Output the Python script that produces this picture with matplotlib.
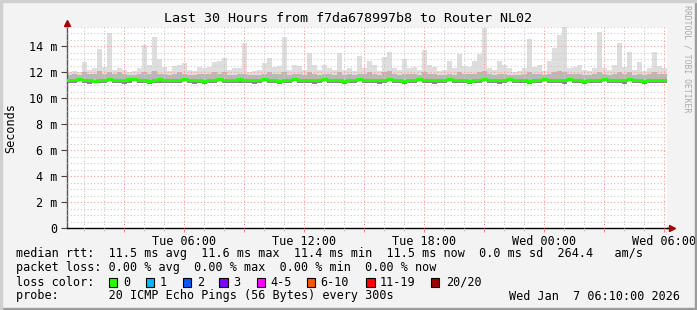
import datetime as dt
import numpy as np
import matplotlib
matplotlib.use('Agg')
import matplotlib.pyplot as plt
import matplotlib.dates as mdates
from matplotlib.ticker import MultipleLocator, FuncFormatter
from matplotlib.patches import Rectangle

title = 'Last 30 Hours from f7da678997b8 to Router NL02'
start = dt.datetime(2026, 1, 6, 0, 10)
step_minutes = 15

# median rtt per 15 minute bin (ms)
median_ms = [
    11.4, 11.4, 11.5, 11.4, 11.4, 11.3, 11.4, 11.4, 11.5, 11.4,
    11.4, 11.4, 11.5, 11.5, 11.4, 11.4, 11.3, 11.4, 11.5, 11.4,
    11.4, 11.4, 11.4, 11.5, 11.4, 11.4, 11.4, 11.3, 11.4, 11.4,
    11.5, 11.4, 11.4, 11.4, 11.5, 11.4, 11.4, 11.4, 11.4, 11.5,
    11.4, 11.4, 11.3, 11.4, 11.4, 11.5, 11.4, 11.4, 11.4, 11.4,
    11.4, 11.5, 11.4, 11.4, 11.4, 11.3, 11.4, 11.4, 11.5, 11.4,
    11.4, 11.4, 11.4, 11.4, 11.5, 11.4, 11.4, 11.3, 11.4, 11.4,
    11.5, 11.4, 11.4, 11.4, 11.4, 11.4, 11.5, 11.4, 11.4, 11.4,
    11.3, 11.4, 11.4, 11.5, 11.4, 11.4, 11.4, 11.4, 11.5, 11.4,
    11.4, 11.4, 11.3, 11.4, 11.4, 11.5, 11.4, 11.4, 11.4, 11.4,
    11.5, 11.4, 11.4, 11.3, 11.4, 11.4, 11.4, 11.5, 11.4, 11.4,
    11.4, 11.4, 11.5, 11.4, 11.4, 11.3, 11.4, 11.4, 11.4, 11.4,
]

# slowest ping per bin (ms)
ping_max = [
    12.0, 12.1, 12.0, 12.8, 12.2, 12.3, 13.8, 12.4, 15.0, 12.2,
    12.3, 12.2, 12.0, 12.1, 12.3, 14.1, 12.6, 14.7, 13.0, 12.4,
    12.1, 12.5, 12.6, 12.7, 12.2, 12.1, 12.4, 12.3, 12.4, 12.8,
    12.9, 13.1, 12.2, 12.3, 12.3, 14.3, 12.0, 12.1, 12.2, 12.7,
    13.1, 12.4, 12.5, 14.7, 12.2, 12.6, 12.5, 12.2, 13.5, 12.6,
    12.2, 12.6, 12.3, 12.2, 13.5, 12.2, 12.3, 12.1, 13.3, 12.3,
    12.9, 12.6, 12.1, 13.2, 13.6, 12.3, 12.2, 13.0, 12.3, 12.4,
    12.2, 13.7, 12.6, 12.4, 12.1, 12.2, 12.9, 12.3, 13.4, 12.5,
    12.4, 12.9, 13.4, 15.4, 12.3, 12.2, 12.9, 12.6, 12.3, 12.0,
    12.1, 12.3, 14.6, 12.4, 12.6, 12.1, 12.9, 13.9, 14.9, 15.5,
    12.3, 12.4, 12.6, 12.2, 12.1, 12.3, 15.1, 12.3, 12.2, 12.6,
    14.3, 12.4, 13.6, 12.2, 12.8, 12.1, 12.3, 13.6, 12.5, 12.3,
]

# upper edge of the dense smoke (ms)
ping_hi = [
    11.8, 11.9, 11.8, 12.0, 11.9, 11.9, 12.1, 11.9, 12.0, 11.9,
    12.0, 11.9, 11.8, 11.8, 11.9, 12.0, 11.9, 12.1, 11.9, 11.9,
    11.8, 11.9, 12.0, 11.9, 11.8, 11.8, 11.9, 11.9, 11.9, 12.0,
    11.9, 12.0, 11.8, 11.8, 11.9, 11.9, 11.8, 11.8, 11.8, 11.9,
    12.0, 11.9, 11.9, 12.0, 11.8, 11.9, 11.9, 11.8, 12.0, 11.9,
    11.8, 11.9, 11.9, 11.8, 12.0, 11.8, 11.9, 11.8, 11.9, 11.9,
    12.0, 11.9, 11.8, 12.0, 12.1, 11.9, 11.8, 11.9, 11.9, 11.9,
    11.8, 12.0, 11.9, 11.9, 11.8, 11.8, 11.9, 11.8, 12.0, 11.9,
    11.9, 11.9, 12.0, 12.1, 11.9, 11.8, 11.9, 11.9, 11.8, 11.8,
    11.8, 11.9, 12.0, 11.9, 11.9, 11.8, 11.9, 12.0, 12.1, 12.0,
    11.9, 11.9, 11.9, 11.8, 11.8, 11.9, 12.0, 11.9, 11.8, 11.9,
    12.0, 11.9, 12.0, 11.8, 11.9, 11.8, 11.9, 12.0, 11.9, 11.9,
]

# fastest ping per bin (ms)
ping_min = [
    11.2, 11.2, 11.3, 11.2, 11.1, 11.2, 11.2, 11.2, 11.3, 11.2,
    11.2, 11.1, 11.2, 11.3, 11.2, 11.2, 11.1, 11.2, 11.2, 11.2,
    11.2, 11.2, 11.2, 11.3, 11.2, 11.1, 11.2, 11.1, 11.2, 11.2,
    11.3, 11.2, 11.2, 11.2, 11.2, 11.2, 11.2, 11.1, 11.2, 11.3,
    11.2, 11.2, 11.1, 11.2, 11.2, 11.3, 11.2, 11.2, 11.2, 11.1,
    11.2, 11.3, 11.2, 11.2, 11.2, 11.1, 11.2, 11.2, 11.3, 11.2,
    11.2, 11.2, 11.1, 11.2, 11.3, 11.2, 11.2, 11.1, 11.2, 11.2,
    11.3, 11.2, 11.2, 11.1, 11.2, 11.2, 11.3, 11.2, 11.2, 11.2,
    11.1, 11.2, 11.2, 11.3, 11.2, 11.2, 11.1, 11.2, 11.3, 11.2,
    11.2, 11.2, 11.1, 11.2, 11.2, 11.3, 11.2, 11.2, 11.2, 11.1,
    11.3, 11.2, 11.2, 11.1, 11.2, 11.2, 11.2, 11.3, 11.2, 11.2,
    11.2, 11.1, 11.3, 11.2, 11.2, 11.1, 11.2, 11.2, 11.2, 11.2,
]

legend_lines = [
    'median rtt:  11.5 ms avg  11.6 ms max  11.4 ms min  11.5 ms now  0.0 ms sd  264.4   am/s',
    'packet loss: 0.00 % avg  0.00 % max  0.00 % min  0.00 % now',
    'loss color:',
    'probe:       20 ICMP Echo Pings (56 Bytes) every 300s',
]
loss_labels = ['0', '1', '2', '3', '4-5', '6-10', '11-19', '20/20']
loss_colors = ['#26ff00', '#00b8ff', '#0059ff', '#7e00ff', '#ff00ff', '#ff5500', '#ff0000', '#a10000']
stamp = 'Wed Jan  7 06:10:00 2026'

W, H = 697, 310
MONO = 'DejaVu Sans Mono'


def fx(px):
    return px / W


def fy(py):
    return 1 - py / H


fig = plt.figure(figsize=(W / 100, H / 100), dpi=100, facecolor='#f3f3f3')

# frame around the image
fig.patches.append(Rectangle((0, 0), 1, 2 / H, transform=fig.transFigure, color='#9c9c9c'))
fig.patches.append(Rectangle((1 - 2 / W, 0), 2 / W, 1, transform=fig.transFigure, color='#9c9c9c'))
fig.patches.append(Rectangle((0, 1 - 2 / H), 1, 2 / H, transform=fig.transFigure, color='#cfcfcf'))
fig.patches.append(Rectangle((0, 0), 2 / W, 1, transform=fig.transFigure, color='#cfcfcf'))

ax = fig.add_axes([fx(67), fy(228), 600 / W, 201 / H])
ax.set_facecolor('white')

n = len(median_ms)
edges = [start + dt.timedelta(minutes=step_minutes * i) for i in range(n + 1)]


def ext(a):
    return np.append(a, a[-1])


# smoke: light outer, mid dense band, dark just under the median
ax.fill_between(edges, ext(ping_min), ext(ping_max), step='post', color='#dedede', lw=0, zorder=1)
ax.fill_between(edges, ext(ping_min), ext(ping_hi), step='post', color='#b8b8b8', lw=0, zorder=2)
ax.fill_between(edges, ext(ping_min), ext(median_ms), step='post', color='#888888', lw=0, zorder=2)
ax.plot(edges, ext(median_ms), drawstyle='steps-post', color='#26ff00', lw=2.2, zorder=4)

ax.set_xlim(start, start + dt.timedelta(hours=30))
ax.set_ylim(0, 15.5)

# grid
ax.xaxis.set_major_locator(mdates.HourLocator(byhour=range(0, 24, 3)))
ax.xaxis.set_minor_locator(mdates.HourLocator())


def xfmt(x, pos):
    d = mdates.num2date(x)
    return d.strftime('%a %H:%M') if d.hour % 6 == 0 else ''


ax.xaxis.set_major_formatter(FuncFormatter(xfmt))
ax.yaxis.set_major_locator(MultipleLocator(2))
ax.yaxis.set_minor_locator(MultipleLocator(0.5))
ax.yaxis.set_major_formatter(FuncFormatter(lambda v, pos: '0' if v == 0 else '%d m' % v))

ax.grid(which='minor', color='#cccccc', lw=0.8, ls=(0, (1, 2)), zorder=3)
ax.grid(which='major', color='#ff9999', lw=0.8, ls=(0, (1, 2)), zorder=3)
ax.set_axisbelow(False)

ax.tick_params(axis='y', which='major', length=4, width=0.8, color='#444444', pad=3)
ax.tick_params(axis='y', which='minor', length=0)
ax.tick_params(axis='x', which='major', length=3, width=0.8, color='#ff8080', pad=2)
ax.tick_params(axis='x', which='minor', length=2, width=0.8, color='#cccccc')
for lab in ax.get_xticklabels() + ax.get_yticklabels():
    lab.set_fontfamily(MONO)
    lab.set_fontsize(8.5)

for s in ['top', 'right']:
    ax.spines[s].set_visible(False)
ax.spines['left'].set_color('#555555')
ax.spines['bottom'].set_color('black')
ax.spines['left'].set_linewidth(1)
ax.spines['bottom'].set_linewidth(1)

# axis extensions with arrow heads
ax.plot([0, 0], [1, 1.02], transform=ax.transAxes, color='#555555', lw=1, clip_on=False)
ax.plot([1, 1.008], [0, 0], transform=ax.transAxes, color='black', lw=1, clip_on=False)
ax.plot([0], [1.02], marker='^', ms=5, color='#a00000', transform=ax.transAxes, clip_on=False)
ax.plot([1.008], [0], marker='>', ms=5, color='#a00000', transform=ax.transAxes, clip_on=False)

# texts
fig.text(fx(348), fy(18), title, ha='center', va='center', family=MONO, fontsize=9.6)
fig.text(fx(11), fy(128), 'Seconds', ha='center', va='center', rotation=90, family=MONO, fontsize=8.5)
fig.text(fx(687), fy(5), 'RRDTOOL / TOBI OETIKER', ha='center', va='top', rotation=270,
         family=MONO, fontsize=5.9, color='#aaaaaa')

line_y = [254, 268, 282, 296]
for txt, yy in zip(legend_lines, line_y):
    fig.text(fx(16), fy(yy), txt, ha='left', va='center', family=MONO, fontsize=8.5)

sq_x = [108.7, 145.7, 182.7, 219.3, 256.7, 306.7, 366, 430.7]
lab_x = [123.3, 160, 196.7, 233.3, 270.7, 320, 380, 446]
for sx, lx, lab, col in zip(sq_x, lab_x, loss_labels, loss_colors):
    fig.patches.append(Rectangle((fx(sx), fy(286.5)), 8.5 / W, 8.5 / H, transform=fig.transFigure,
                                 facecolor=col, edgecolor='black', lw=0.8))
    fig.text(fx(lx), fy(282), lab, ha='left', va='center', family=MONO, fontsize=8.5)

fig.text(fx(680), fy(296), stamp, ha='right', va='center', family=MONO, fontsize=8.5)

fig.savefig('out.png', dpi=100, facecolor=fig.get_facecolor())
